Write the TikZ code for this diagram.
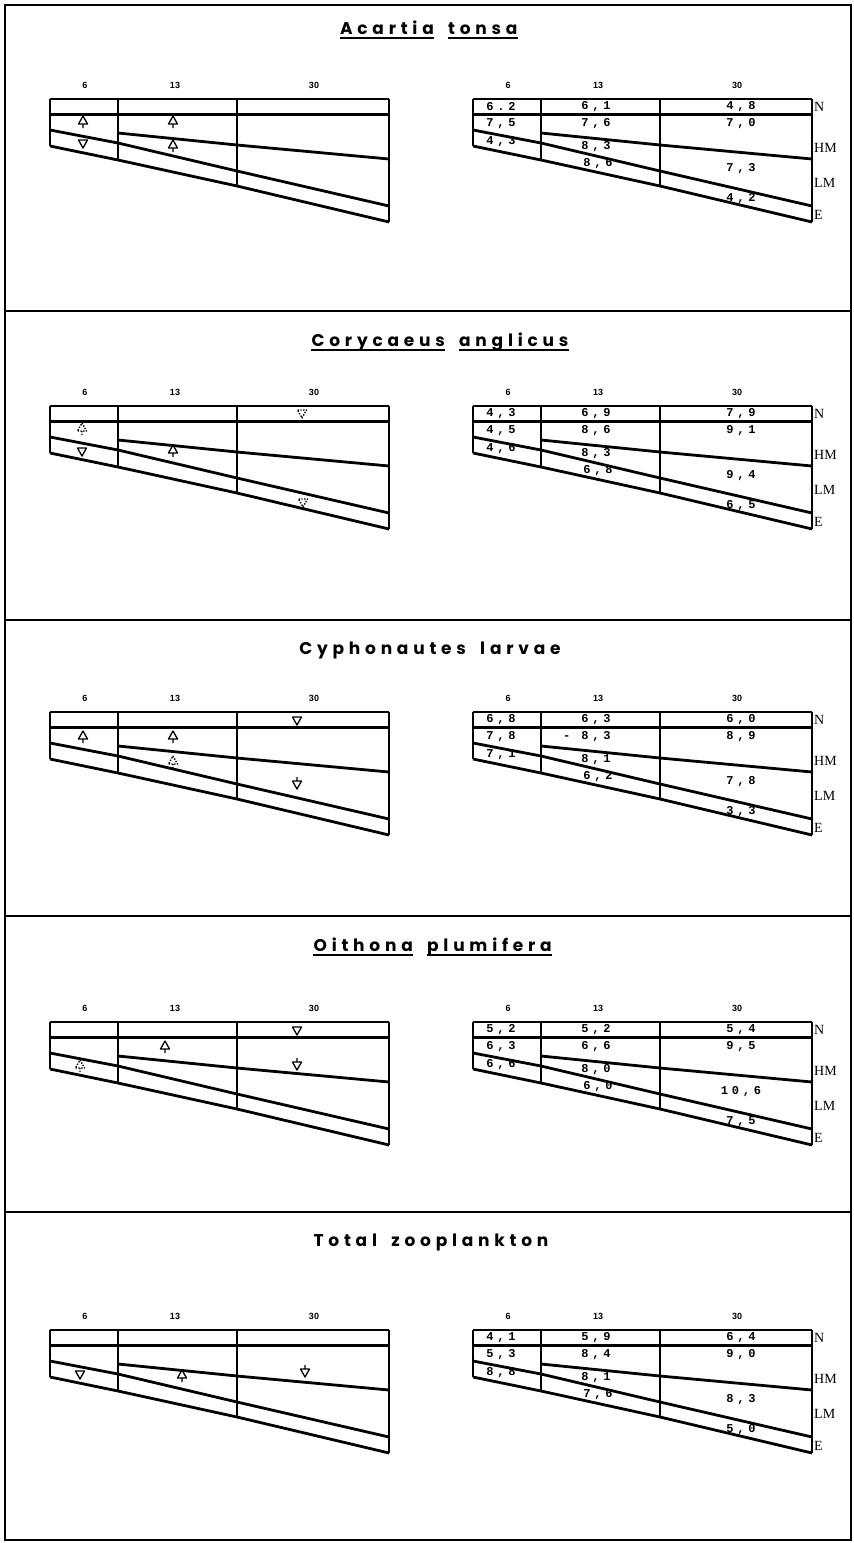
\documentclass[tikz,border=0pt]{standalone}
\usepackage{fontspec}
\setmainfont{Liberation Serif}
\newfontfamily\ttlfont[LetterSpace=28]{Poppins}
\newfontfamily\valfont[LetterSpace=32]{Liberation Mono}
\newfontfamily\hdrfont{Liberation Sans}
\usetikzlibrary{positioning}
\tikzset{frame/.style={line width=1.6pt},
         topln/.style={line width=2.2pt},
         thickln/.style={line width=2.8pt},
         colln/.style={line width=1.3pt},
         ttl/.style={inner sep=0pt,font=\ttlfont\bfseries\fontsize{17}{17}\selectfont},
         ul/.style={line width=2pt},
         hdr/.style={inner sep=0pt,font=\hdrfont\bfseries\fontsize{9}{9}\selectfont},
         val/.style={inner sep=0pt,font=\valfont\bfseries\fontsize{12}{12}\selectfont},
         zone/.style={anchor=west,inner sep=0pt,font=\fontsize{14}{14}\selectfont},
         sym/.style={line width=1.3pt,line join=round},
         dsym/.style={sym,dash pattern=on 1.4pt off 1.4pt}
}

\begin{document}
\begin{tikzpicture}[x=1pt,y=-1pt]
\path[use as bounding box,fill=white] (0,0) rectangle (854,1543);
\draw[frame] (5,5) rectangle (851,1540);
\foreach \sy in {311,620,916,1212}
  \draw[frame] (5,\sy) -- (851,\sy);

\foreach \T [count=\p] in {99,406,712,1022,1330} {
  \foreach \gx [count=\g] in {50,473} {
    \begin{scope}[shift={(\gx,\T)}]
      \draw[topln] (0,0) -- (339,0);
      \draw[thickln] (0,15.5) -- (339,15.5);
      \draw[colln] (0,0) -- (0,47);
      \draw[colln] (68,0) -- (68,61);
      \draw[colln] (187,0) -- (187,87);
      \draw[colln] (339,0) -- (339,123);
      \draw[thickln] (68,34) -- (187,46) -- (339,60);
      \draw[thickln] (0,31) -- (68,44) -- (187,72) -- (339,107);
      \draw[thickln] (0,47) -- (68,61) -- (187,87) -- (339,123);
      \foreach \hx/\hl [count=\k] in {35/6,125/13,264/30}
        \node[hdr] (h\p-\g-\k) at (\hx,-14) {\hl};
    \end{scope}
  }
  \begin{scope}[shift={(473,\T)}]
    \foreach \zy/\zl in {8/N,49/HM,84/LM,116/E}
      \node[zone] (z\p\zl) at (341,\zy) {\zl};
    \foreach \cx/\cy [count=\k] in {28/8,123/8,268/8,28/25,123/25,268/25,28/43,123/48,125/65,268/70,268/100}
      \coordinate (p\p-c\k) at (\cx,\cy);
  \end{scope}
}

% Acartia tonsa
\node[ttl,anchor=base east] (t1a) at (434,34) {Acartia};
\node[ttl,base right=14pt of t1a] (t1b) {tonsa};
\draw[ul] ([yshift=-4pt]t1a.base west) -- ([yshift=-4pt]t1a.base east);
\draw[ul] ([yshift=-4pt]t1b.base west) -- ([yshift=-4pt]t1b.base east);
\foreach \vt [count=\k] in {6.2,{6,1},{4,8},{7,5},{7,6},{7,0},{4,3},{8,3},{8,6},{7,3},{4,2}}
  \node[val] (v1-\k) at (p1-c\k) {\vt};
\begin{scope}[shift={(50,99)}]
  \foreach \sx/\sy in {33/24,123/24,123/48}
    \draw[sym] (\sx-4.5,\sy+1) -- (\sx+4.5,\sy+1) -- (\sx,\sy-7) -- cycle (\sx,\sy+1) -- (\sx,\sy+5);
  \foreach \sx/\sy in {33/45}
    \draw[sym] (\sx-4.5,\sy-4) -- (\sx+4.5,\sy-4) -- (\sx,\sy+4) -- cycle;
\end{scope}

% Corycaeus anglicus
\node[ttl,anchor=base east] (t2a) at (445,346) {Corycaeus};
\node[ttl,base right=14pt of t2a] (t2b) {anglicus};
\draw[ul] ([yshift=-4pt]t2a.base west) -- ([yshift=-4pt]t2a.base east);
\draw[ul] ([yshift=-4pt]t2b.base west) -- ([yshift=-4pt]t2b.base east);
\foreach \vt [count=\k] in {{4,3},{6,9},{7,9},{4,5},{8,6},{9,1},{4,6},{8,3},{6,8},{9,4},{6,5}}
  \node[val] (v2-\k) at (p2-c\k) {\vt};
\begin{scope}[shift={(50,406)}]
  \foreach \sx/\sy in {123/46}
    \draw[sym] (\sx-4.5,\sy+1) -- (\sx+4.5,\sy+1) -- (\sx,\sy-7) -- cycle (\sx,\sy+1) -- (\sx,\sy+5);
  \foreach \sx/\sy in {32/24}
    \draw[dsym] (\sx-4.5,\sy+1) -- (\sx+4.5,\sy+1) -- (\sx,\sy-7) -- cycle (\sx,\sy+1) -- (\sx,\sy+5);
  \foreach \sx/\sy in {32/46}
    \draw[sym] (\sx-4.5,\sy-4) -- (\sx+4.5,\sy-4) -- (\sx,\sy+4) -- cycle;
  \foreach \sx/\sy in {252/8,253/97}
    \draw[dsym] (\sx-4.5,\sy-4) -- (\sx+4.5,\sy-4) -- (\sx,\sy+4) -- cycle;
\end{scope}

% Cyphonautes larvae
\node[ttl,anchor=base] (t3) at (430,654) {Cyphonautes\hspace{6pt} larvae};
\foreach \vt [count=\k] in {{6,8},{6,3},{6,0},{7,8},{\llap{- }8,3},{8,9},{7,1},{8,1},{6,2},{7,8},{3,3}}
  \node[val] (v3-\k) at (p3-c\k) {\vt};
\begin{scope}[shift={(50,712)}]
  \foreach \sx/\sy in {33/26,123/26}
    \draw[sym] (\sx-4.5,\sy+1) -- (\sx+4.5,\sy+1) -- (\sx,\sy-7) -- cycle (\sx,\sy+1) -- (\sx,\sy+5);
  \foreach \sx/\sy in {123/51}
    \draw[dsym] (\sx-4.5,\sy+1) -- (\sx+4.5,\sy+1) -- (\sx,\sy-7) -- cycle (\sx,\sy+1) -- (\sx,\sy+5);
  \foreach \sx/\sy in {247/9}
    \draw[sym] (\sx-4.5,\sy-4) -- (\sx+4.5,\sy-4) -- (\sx,\sy+4) -- cycle;
  \foreach \sx/\sy in {247/70}
    \draw[sym] (\sx-4.5,\sy-1) -- (\sx+4.5,\sy-1) -- (\sx,\sy+7) -- cycle (\sx,\sy-1) -- (\sx,\sy-5);
\end{scope}

% Oithona plumifera
\node[ttl,anchor=base east] (t4a) at (413,951) {Oithona};
\node[ttl,base right=14pt of t4a] (t4b) {plumifera};
\draw[ul] ([yshift=-4pt]t4a.base west) -- ([yshift=-4pt]t4a.base east);
\draw[ul] ([yshift=-4pt]t4b.base west) -- ([yshift=-4pt]t4b.base east);
\foreach \vt [count=\k] in {{5,2},{5,2},{5,4},{6,3},{6,6},{9,5},{6,6},{8,0},{6,0},{10,6},{7,5}}
  \node[val] (v4-\k) at (p4-c\k) {\vt};
\begin{scope}[shift={(50,1022)}]
  \foreach \sx/\sy in {115/26}
    \draw[sym] (\sx-4.5,\sy+1) -- (\sx+4.5,\sy+1) -- (\sx,\sy-7) -- cycle (\sx,\sy+1) -- (\sx,\sy+5);
  \foreach \sx/\sy in {30/45}
    \draw[dsym] (\sx-4.5,\sy+1) -- (\sx+4.5,\sy+1) -- (\sx,\sy-7) -- cycle (\sx,\sy+1) -- (\sx,\sy+5);
  \foreach \sx/\sy in {247/9}
    \draw[sym] (\sx-4.5,\sy-4) -- (\sx+4.5,\sy-4) -- (\sx,\sy+4) -- cycle;
  \foreach \sx/\sy in {247/41}
    \draw[sym] (\sx-4.5,\sy-1) -- (\sx+4.5,\sy-1) -- (\sx,\sy+7) -- cycle (\sx,\sy-1) -- (\sx,\sy-5);
\end{scope}

% Total zooplankton
\node[ttl,anchor=base] (t5) at (431,1246) {Total\hspace{6pt} zooplankton};
\foreach \vt [count=\k] in {{4,1},{5,9},{6,4},{5,3},{8,4},{9,0},{8,8},{8,1},{7,6},{8,3},{5,0}}
  \node[val] (v5-\k) at (p5-c\k) {\vt};
\begin{scope}[shift={(50,1330)}]
  \foreach \sx/\sy in {132/47}
    \draw[sym] (\sx-4.5,\sy+1) -- (\sx+4.5,\sy+1) -- (\sx,\sy-7) -- cycle (\sx,\sy+1) -- (\sx,\sy+5);
  \foreach \sx/\sy in {30/45}
    \draw[sym] (\sx-4.5,\sy-4) -- (\sx+4.5,\sy-4) -- (\sx,\sy+4) -- cycle;
  \foreach \sx/\sy in {255/40}
    \draw[sym] (\sx-4.5,\sy-1) -- (\sx+4.5,\sy-1) -- (\sx,\sy+7) -- cycle (\sx,\sy-1) -- (\sx,\sy-5);
\end{scope}
\end{tikzpicture}
\end{document}
